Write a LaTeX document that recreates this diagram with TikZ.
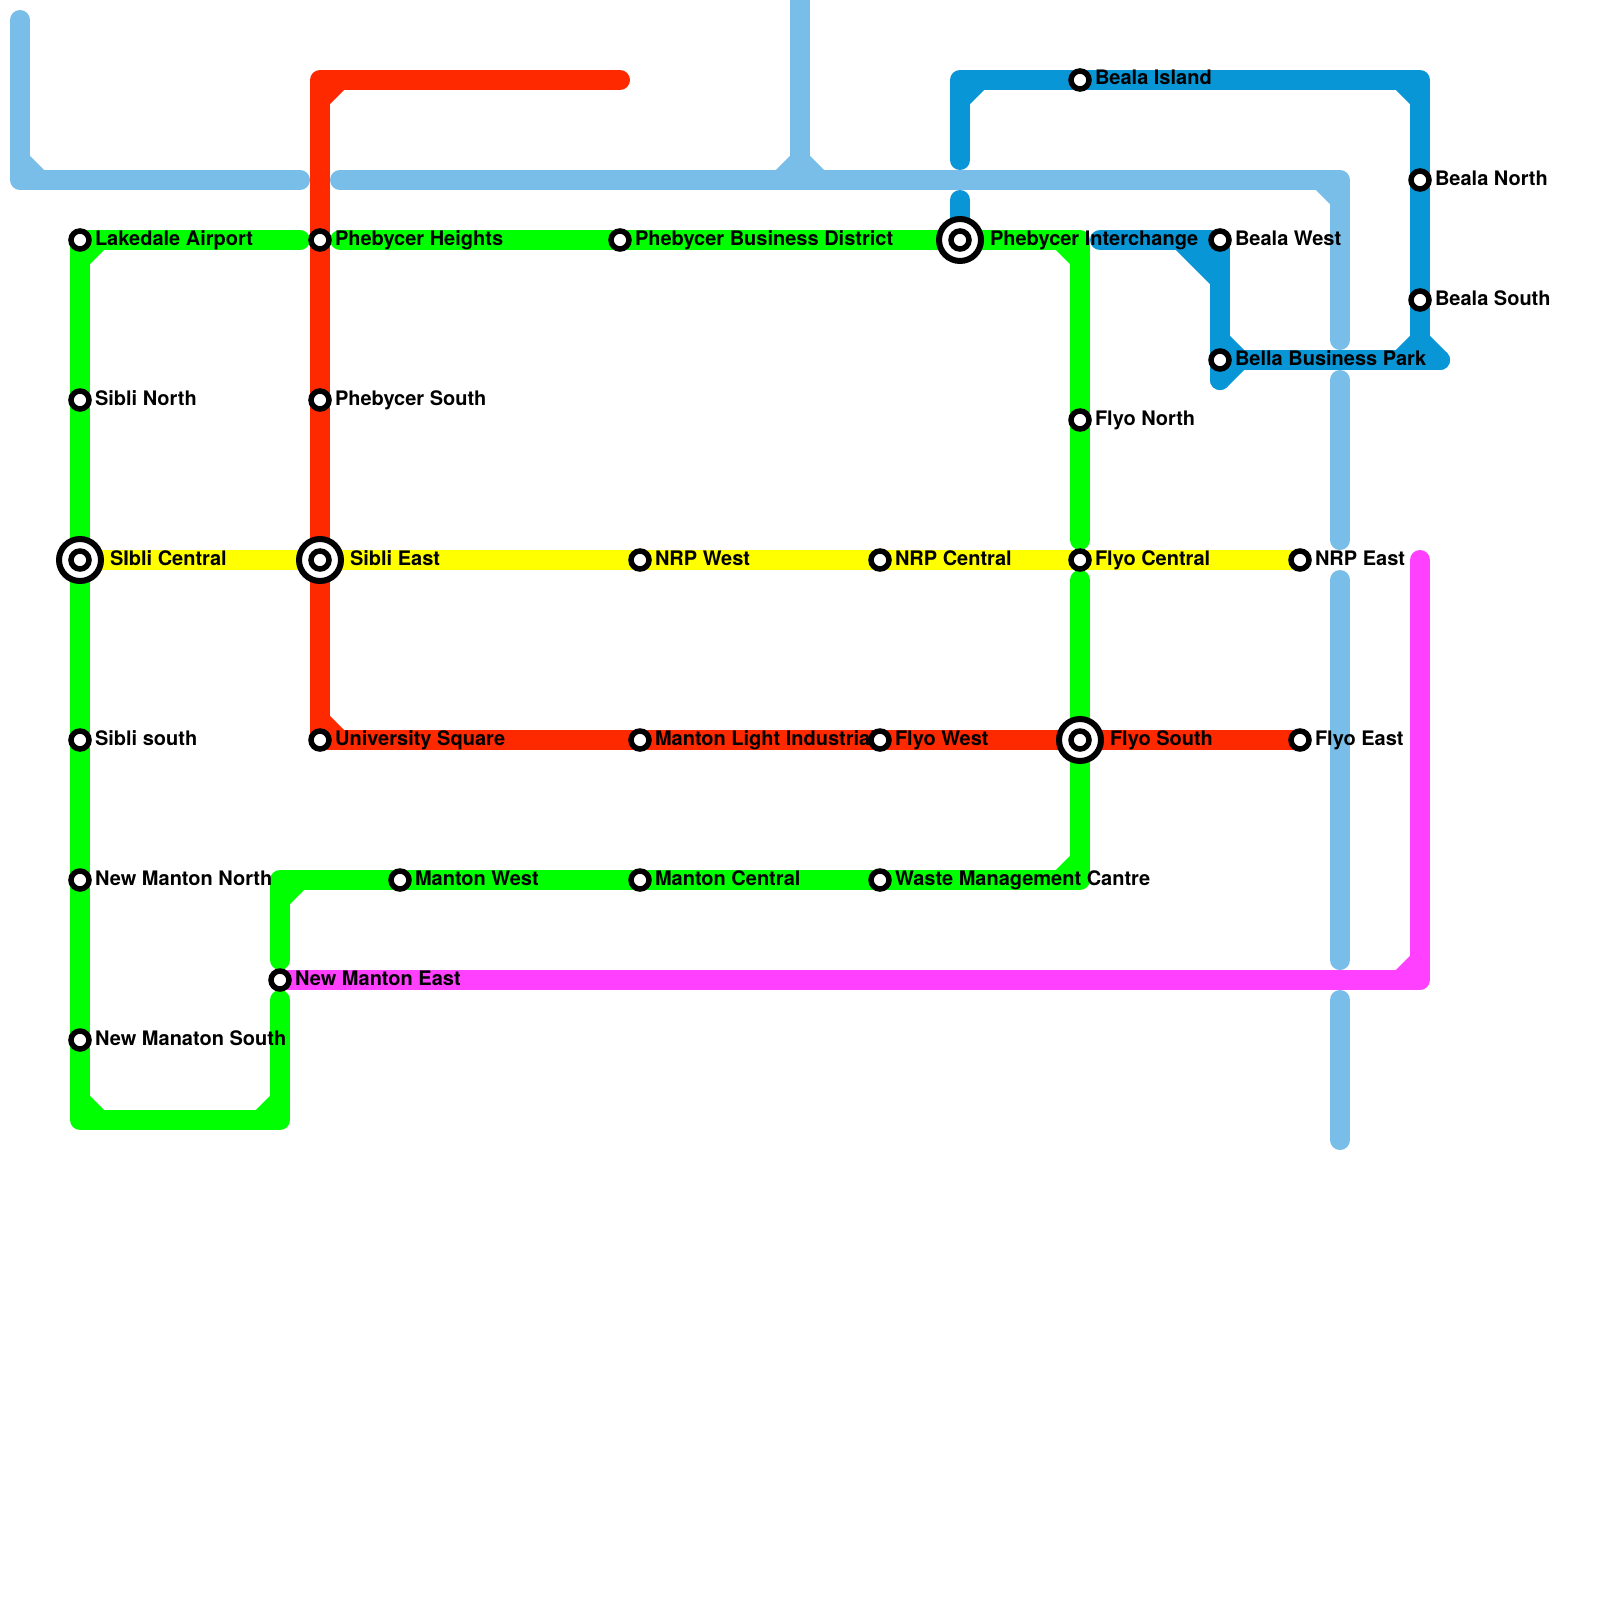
\documentclass[tikz,border=0pt]{standalone}
\usepackage{fontspec}
\setmainfont{TeX Gyre Heros}
\usetikzlibrary{backgrounds}
\definecolor{sky}{HTML}{79BDE9}
\definecolor{deepblue}{HTML}{0896D7}
\definecolor{lime}{HTML}{00FF00}
\definecolor{redline}{HTML}{FF2900}
\definecolor{yell}{HTML}{FFFF00}
\definecolor{magent}{HTML}{FF40FF}
\tikzset{
  x=1pt,y=-1pt,
  metro/.style={line width=20pt,line cap=round,line join=round},
  stop/.style={circle,draw=black,fill=white,line width=5.5pt,minimum size=18pt,inner sep=0pt,outer sep=0pt},
  hub/.style={circle,draw=black,fill=white,line width=6pt,minimum size=42pt,inner sep=0pt,outer sep=0pt},
  lab/.style={anchor=base west,inner sep=0pt,outer sep=0pt,font=\bfseries\fontsize{20pt}{20pt}\selectfont,text=black},
}
\newcommand{\stn}[5]{% name, x, y, label name, label
  \node[stop] (#1) at (#2,#3) {};
  \node[lab] (#4) at (#2+15,#3+5) {#5};
}
\newcommand{\bighub}[5]{%
  \node[hub] (#1o) at (#2,#3) {};
  \node[stop] (#1) at (#2,#3) {};
  \node[lab] (#4) at (#2+30,#3+5) {#5};
}
\begin{document}
\begin{tikzpicture}
\useasboundingbox (0,0) rectangle (1600,1600);
% corners and free ends
\coordinate (sa0) at (20,20);
\coordinate (sa1) at (20,180);
\coordinate (sa2) at (300,180);
\coordinate (sa3) at (20,160);
\coordinate (sa4) at (40,180);
\coordinate (sb0) at (340,180);
\coordinate (sb1) at (1340,180);
\coordinate (sb2) at (1340,340);
\coordinate (sb3) at (1320,180);
\coordinate (sb4) at (1340,200);
\coordinate (sc0) at (1340,380);
\coordinate (sc1) at (1340,540);
\coordinate (sd0) at (1340,580);
\coordinate (sd1) at (1340,960);
\coordinate (se0) at (1340,1000);
\coordinate (se1) at (1340,1140);
\coordinate (sf0) at (800,0);
\coordinate (sf1) at (800,180);
\coordinate (sf2) at (780,180);
\coordinate (sf3) at (800,160);
\coordinate (sf4) at (820,180);
\coordinate (ga0) at (300,240);
\coordinate (ga1) at (80,1120);
\coordinate (ga2) at (280,1120);
\coordinate (ga3) at (280,1000);
\coordinate (ga4) at (80,260);
\coordinate (ga5) at (100,240);
\coordinate (ga6) at (80,1100);
\coordinate (ga7) at (100,1120);
\coordinate (ga8) at (260,1120);
\coordinate (ga9) at (280,1100);
\coordinate (gb0) at (280,960);
\coordinate (gb1) at (280,880);
\coordinate (gb2) at (1080,880);
\coordinate (gb3) at (1080,580);
\coordinate (gb4) at (280,900);
\coordinate (gb5) at (300,880);
\coordinate (gb6) at (1060,880);
\coordinate (gb7) at (1080,860);
\coordinate (gc0) at (340,240);
\coordinate (gc1) at (1080,240);
\coordinate (gc2) at (1080,540);
\coordinate (gc3) at (1060,240);
\coordinate (gc4) at (1080,260);
\coordinate (ra0) at (620,80);
\coordinate (ra1) at (320,80);
\coordinate (ra2) at (320,100);
\coordinate (ra3) at (340,80);
\coordinate (ra4) at (320,720);
\coordinate (ra5) at (340,740);
\coordinate (ma0) at (1420,980);
\coordinate (ma1) at (1420,560);
\coordinate (ma2) at (1400,980);
\coordinate (ma3) at (1420,960);
\coordinate (ba0) at (960,160);
\coordinate (ba1) at (960,80);
\coordinate (ba2) at (1420,80);
\coordinate (ba3) at (1420,360);
\coordinate (ba4) at (960,100);
\coordinate (ba5) at (980,80);
\coordinate (ba6) at (1400,80);
\coordinate (ba7) at (1420,100);
\coordinate (bb0) at (960,200);
\coordinate (bc0) at (1100,240);
\coordinate (bc1) at (1220,380);
\coordinate (bc2) at (1180,240);
\coordinate (bc3) at (1220,280);
\coordinate (bc4) at (1220,340);
\coordinate (bc5) at (1240,360);
\coordinate (bc6) at (1440,360);
\coordinate (bc7) at (1400,360);
\coordinate (bc8) at (1420,340);
\coordinate (bc9) at (1200,240);
\coordinate (bc10) at (1220,260);
% stations and labels
\stn{lakedale}{80}{240}{lLakedale}{Lakedale Airport}
\stn{siblin}{80}{400}{lSiblin}{Sibli North}
\bighub{siblic}{80}{560}{lSiblic}{SIbli Central}
\stn{siblis}{80}{740}{lSiblis}{Sibli south}
\stn{nmn}{80}{880}{lNmn}{New Manton North}
\stn{nms}{80}{1040}{lNms}{New Manaton South}
\stn{phh}{320}{240}{lPhh}{Phebycer Heights}
\stn{phs}{320}{400}{lPhs}{Phebycer South}
\bighub{siblie}{320}{560}{lSiblie}{Sibli East}
\stn{uni}{320}{740}{lUni}{University Square}
\stn{phb}{620}{240}{lPhb}{Phebycer Business District}
\bighub{phi}{960}{240}{lPhi}{Phebycer Interchange}
\stn{bealaw}{1220}{240}{lBealaw}{Beala West}
\stn{bella}{1220}{360}{lBella}{Bella Business Park}
\stn{bealai}{1080}{80}{lBealai}{Beala Island}
\stn{bealan}{1420}{180}{lBealan}{Beala North}
\stn{bealas}{1420}{300}{lBealas}{Beala South}
\stn{flyon}{1080}{420}{lFlyon}{Flyo North}
\stn{flyoc}{1080}{560}{lFlyoc}{Flyo Central}
\bighub{flyos}{1080}{740}{lFlyos}{Flyo South}
\stn{nrpw}{640}{560}{lNrpw}{NRP West}
\stn{nrpc}{880}{560}{lNrpc}{NRP Central}
\stn{nrpe}{1300}{560}{lNrpe}{NRP East}
\stn{mli}{640}{740}{lMli}{Manton Light Industrial}
\stn{flyow}{880}{740}{lFlyow}{Flyo West}
\stn{flyoe}{1300}{740}{lFlyoe}{Flyo East}
\stn{mw}{400}{880}{lMw}{Manton West}
\stn{mc}{640}{880}{lMc}{Manton Central}
\stn{waste}{880}{880}{lWaste}{Waste Management Cantre}
\stn{nme}{280}{980}{lNme}{New Manton East}
% lines underneath
\begin{scope}[on background layer]
\fill[white] (0,0) rectangle (1600,1600);
\draw[metro,sky] (sa0) -- (sa1) -- (sa2);
\draw[metro,sky] (sa3) -- (sa4);
\draw[metro,sky] (sb0) -- (sb1) -- (sb2);
\draw[metro,sky] (sb3) -- (sb4);
\draw[metro,sky] (sc0) -- (sc1);
\draw[metro,sky] (sd0) -- (sd1);
\draw[metro,sky] (se0) -- (se1);
\draw[metro,sky] (sf0) -- (sf1);
\draw[metro,sky] (sf2) -- (sf3) -- (sf4);
\draw[metro,lime] (ga0) -- (lakedale.center) -- (ga1) -- (ga2) -- (ga3);
\draw[metro,lime] (ga4) -- (ga5);
\draw[metro,lime] (ga6) -- (ga7);
\draw[metro,lime] (ga8) -- (ga9);
\draw[metro,lime] (gb0) -- (gb1) -- (gb2) -- (gb3);
\draw[metro,lime] (gb4) -- (gb5);
\draw[metro,lime] (gb6) -- (gb7);
\draw[metro,lime] (gc0) -- (gc1) -- (gc2);
\draw[metro,lime] (gc3) -- (gc4);
\draw[metro,yell] (siblic.center) -- (nrpe.center);
\draw[metro,redline] (ra0) -- (ra1) -- (uni.center) -- (flyoe.center);
\draw[metro,redline] (ra2) -- (ra3);
\draw[metro,redline] (ra4) -- (ra5);
\draw[metro,magent] (nme.center) -- (ma0) -- (ma1);
\draw[metro,magent] (ma2) -- (ma3);
\draw[metro,deepblue] (ba0) -- (ba1) -- (ba2) -- (ba3);
\draw[metro,deepblue] (ba4) -- (ba5);
\draw[metro,deepblue] (ba6) -- (ba7);
\draw[metro,deepblue] (bb0) -- (phi.center);
\draw[metro,deepblue] (bc0) -- (bealaw.center) -- (bc1);
\draw[metro,deepblue] (bc2) -- (bc3);
\draw[metro,deepblue] (bc9) -- (bc10);
\draw[metro,deepblue] (bc4) -- (bc5) -- (bc1);
\draw[metro,deepblue] (bella.center) -- (bc6);
\draw[metro,deepblue] (bc7) -- (bc8) -- (bc6);
\end{scope}
\end{tikzpicture}
\end{document}
